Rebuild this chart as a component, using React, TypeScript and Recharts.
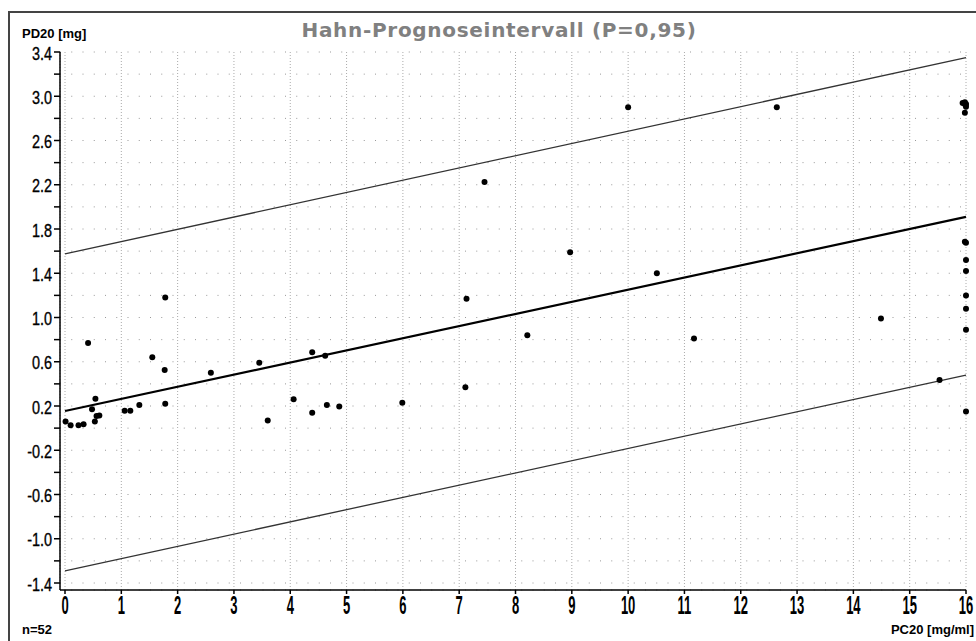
import { ScatterChart, Scatter, XAxis, YAxis, CartesianGrid, ReferenceLine } from "recharts";

// PC20 [mg/ml] and PD20 [mg] of the 52 patients
const pc20 = [
  0.01, 0.1, 0.24, 0.33, 0.41, 0.48, 0.53, 0.54, 0.56, 0.61,
  1.06, 1.16, 1.32, 1.55, 1.77, 1.78, 1.78, 2.59, 3.45, 3.6,
  4.06, 4.39, 4.39, 4.62, 4.65, 4.87, 5.99, 7.11, 7.13, 7.45,
  8.21, 8.97, 10.0, 10.51, 11.17, 12.64, 14.49, 15.53, 15.98, 16,
  16, 16, 16, 16, 16, 16, 15.94, 15.98, 16, 16,
  15.99, 15.98,
];
const pd20 = [
  0.06, 0.025, 0.025, 0.035, 0.77, 0.17, 0.06, 0.265, 0.11, 0.115,
  0.157, 0.157, 0.21, 0.64, 0.525, 1.18, 0.22, 0.5, 0.59, 0.07,
  0.26, 0.685, 0.14, 0.655, 0.21, 0.195, 0.23, 0.37, 1.17, 2.225,
  0.84, 1.59, 2.9, 1.4, 0.81, 2.9, 0.99, 0.435, 1.685, 1.675,
  1.52, 1.42, 1.2, 1.08, 0.89, 0.15, 2.94, 2.945, 2.93, 2.905,
  2.92, 2.85,
];

// regression line and Hahn prediction limits, value at PC20 = 0 and 16
const lineX = [0, 16];
const fitY = [0.155, 1.91];
const upperY = [1.575, 3.35];
const lowerY = [-1.29, 0.48];

const xTicks = [0, 1, 2, 3, 4, 5, 6, 7, 8, 9, 10, 11, 12, 13, 14, 15, 16];
const yTicks = [
  -1.4, -1.2, -1.0, -0.8, -0.6, -0.4, -0.2, 0, 0.2, 0.4, 0.6, 0.8, 1.0,
  1.2, 1.4, 1.6, 1.8, 2.0, 2.2, 2.4, 2.6, 2.8, 3.0, 3.2, 3.4,
];

const points = pc20.map((x, i) => ({ x, y: pd20[i] }));
const seg = (ys: number[]) => [
  { x: lineX[0], y: ys[0] },
  { x: lineX[1], y: ys[1] },
];

const tickFont = "'Liberation Sans', Arial, sans-serif";

function YTick(props: any) {
  const { x, y, payload } = props;
  const v = payload.value;
  if (Math.round((v + 1.4) * 10) % 4 !== 0) return <g />;
  return (
    <text
      transform={`translate(${x},${y + 7.5}) scale(0.78,1)`}
      textAnchor="end"
      fontFamily={tickFont}
      fontSize={18.5}
      fill="#000"
      stroke="#000"
      strokeWidth={0.35}
    >
      {v.toFixed(1)}
    </text>
  );
}

function XTick(props: any) {
  const { x, y, payload } = props;
  return (
    <text
      transform={`translate(${x},${y + 18}) scale(0.52,1)`}
      textAnchor="middle"
      fontFamily={tickFont}
      fontWeight="bold"
      fontSize={25}
      fill="#000"
    >
      {payload.value}
    </text>
  );
}

const Dot = (props: any) => <circle cx={props.cx} cy={props.cy} r={3} fill="#000" />;

export default function App() {
  return (
    <div
      style={{
        position: "absolute",
        left: 0,
        top: 0,
        width: 976,
        height: 641,
        background: "#fff",
        overflow: "hidden",
      }}
    >
      <div
        style={{
          position: "absolute",
          left: 8,
          top: 11,
          width: 976,
          height: 641,
          borderLeft: "2px solid #444",
          borderTop: "2px solid #444",
        }}
      />
      <ScatterChart
        width={976}
        height={641}
        margin={{ top: 52, right: 10, bottom: 21, left: 0 }}
        style={{ position: "absolute", left: 0, top: 0 }}
      >
        <CartesianGrid horizontal={false} stroke="#aaa" strokeDasharray="1 2" />
        <CartesianGrid vertical={false} stroke="#999" strokeDasharray="1 10.25" />
        <XAxis
          type="number"
          dataKey="x"
          domain={[0, 16]}
          ticks={xTicks}
          interval={0}
          padding={{ left: 5, right: 0 }}
          height={30}
          tickSize={4}
          axisLine={{ stroke: "#000", strokeWidth: 1.5 }}
          tickLine={{ stroke: "#000", strokeWidth: 1.5 }}
          tick={<XTick />}
        />
        <YAxis
          type="number"
          dataKey="y"
          domain={[-1.4, 3.4]}
          ticks={yTicks}
          interval={0}
          padding={{ top: 0, bottom: 7 }}
          width={60}
          tickSize={6}
          axisLine={{ stroke: "#000", strokeWidth: 1.5 }}
          tickLine={{ stroke: "#000", strokeWidth: 1.5 }}
          tick={<YTick />}
        />
        <ReferenceLine segment={seg(upperY)} stroke="#333" strokeWidth={1.3} ifOverflow="visible" />
        <ReferenceLine segment={seg(lowerY)} stroke="#333" strokeWidth={1.3} ifOverflow="visible" />
        <ReferenceLine segment={seg(fitY)} stroke="#000" strokeWidth={2.2} ifOverflow="visible" />
        <Scatter data={points} shape={<Dot />} isAnimationActive={false} />
      </ScatterChart>
      <svg
        width={976}
        height={641}
        style={{ position: "absolute", left: 0, top: 0, pointerEvents: "none" }}
      >
        <text
          x={499}
          y={37}
          textAnchor="middle"
          fontFamily="'DejaVu Sans', Verdana, sans-serif"
          fontWeight="bold"
          fontSize={20}
          letterSpacing={0.7}
          fill="#808080"
        >
          Hahn-Prognoseintervall (P=0,95)
        </text>
        <text x={22} y={38} fontFamily="'Liberation Sans', Arial, sans-serif" fontWeight="bold" fontSize={13} fill="#000">
          PD20 [mg]
        </text>
        <text x={22} y={634} fontFamily="'Liberation Sans', Arial, sans-serif" fontWeight="bold" fontSize={13} fill="#000">
          n=52
        </text>
        <text
          x={974}
          y={634}
          textAnchor="end"
          fontFamily="'Liberation Sans', Arial, sans-serif"
          fontWeight="bold"
          fontSize={13}
          fill="#000"
        >
          PC20 [mg/ml]
        </text>
      </svg>
    </div>
  );
}
